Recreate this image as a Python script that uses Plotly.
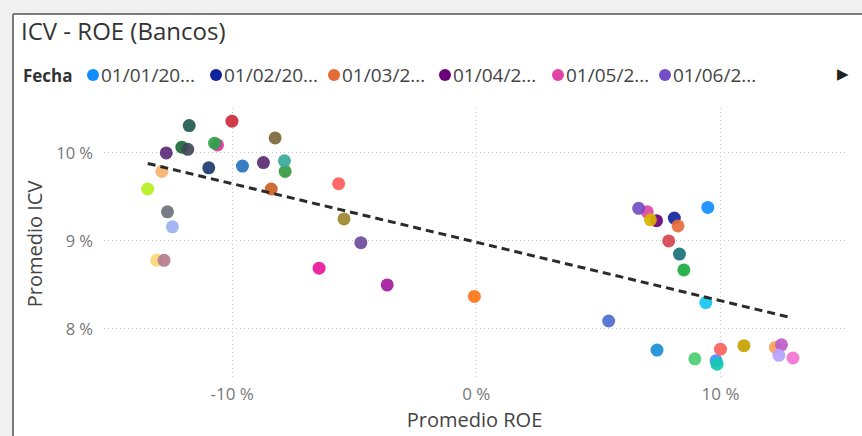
import plotly.graph_objects as go

# ---- data ----
roe = [9.48, 8.11, 8.26, 7.38, 7.00, 6.65, 7.13, 7.88, 8.32, 8.50, 9.40, 9.82,
       12.25, 12.50, 12.97, 12.39, 10.96, 10.00, 8.95, 7.40, 9.86, 5.42,
       -6.44, -3.65, -0.08, -4.73, -5.42, -5.64, -8.40, -7.83, -7.86, -8.72,
       -9.58, -10.96, -8.24, -10.01, -10.60, -10.72, -11.76, -12.06, -11.82,
       -12.70, -12.88, -13.46, -12.65, -12.45, -13.09, -12.79]
icv = [9.38, 9.26, 9.17, 9.23, 9.33, 9.37, 9.24, 9.00, 8.85, 8.67, 8.30, 7.64,
       7.79, 7.82, 7.67, 7.70, 7.81, 7.77, 7.66, 7.76, 7.60, 8.09,
       8.69, 8.50, 8.37, 8.98, 9.25, 9.65, 9.59, 9.79, 9.91, 9.89,
       9.85, 9.83, 10.17, 10.36, 10.09, 10.11, 10.31, 10.065, 10.04,
       10.00, 9.79, 9.59, 9.33, 9.16, 8.78, 8.78]
legend_labels = ["01/01/20...", "01/02/20...", "01/03/2...", "01/04/2...",
                 "01/05/2...", "01/06/2..."]
trend_roe = [-13.46, 12.87]
trend_icv = [9.88, 8.13]
x_tickvals = [-10, 0, 10]
x_ticktext = ["-10 %", "0 %", "10 %"]
y_tickvals = [8, 9, 10]
y_ticktext = ["8 %", "9 %", "10 %"]

colors = ["#118DFF", "#12239E", "#E66C37", "#6B007B", "#E044A7", "#744EC2",
          "#D9B300", "#D64550", "#197278", "#1AAB40", "#15C6F4", "#4092FF",
          "#FFA058", "#BE5DC9", "#F472D0", "#B5A1FF", "#C4A200", "#FD625E",
          "#4BCE71", "#1B8FD6", "#12C8B0", "#4E6FCF",
          "#E8189A", "#A31B9F", "#FF7518", "#6B4C9A", "#A08530", "#FF5C5C",
          "#CC5F22", "#3A9A40", "#3AAA9A", "#5B2D72", "#2673BE", "#1D3B6E",
          "#7A6838", "#CC2B3B", "#E0309F", "#2FA34A", "#215A4F", "#1E6B3A",
          "#3F4858", "#5C2B78", "#F9B26E", "#B4F01E", "#6B717E", "#9CB1F2",
          "#F9D77A", "#B47C8C"]

FONT = "Open Sans"

fig = go.Figure()
for i, (xv, yv) in enumerate(zip(roe, icv)):
    fig.add_trace(go.Scatter(
        x=[xv], y=[yv], mode="markers",
        name=legend_labels[i] if i < len(legend_labels) else f"Fecha {i + 1}",
        showlegend=False,
        marker=dict(size=13, color=colors[i], opacity=0.92, line=dict(width=0)),
    ))

fig.add_trace(go.Scatter(
    x=trend_roe, y=trend_icv, mode="lines", showlegend=False, hoverinfo="skip",
    line=dict(color="#2b2b2b", width=3, dash="8px,5px"),
))

W, H = 862, 436
L, R, T, B = 104, 17, 108, 56
pw, ph = W - L - R, H - T - B


def px(xp):
    return (xp - L) / pw


def py(yp):
    return (H - B - yp) / ph


shapes = [
    dict(type="rect", xref="paper", yref="paper", x0=px(0), x1=px(W), y0=py(0), y1=py(13),
         fillcolor="#f0f0f0", line=dict(width=0), layer="below"),
    dict(type="rect", xref="paper", yref="paper", x0=px(0), x1=px(12), y0=py(0), y1=py(H),
         fillcolor="#f0f0f0", line=dict(width=0), layer="below"),
    dict(type="line", xref="paper", yref="paper", x0=px(13), x1=px(W), y0=py(14), y1=py(14),
         line=dict(color="#7a7a7a", width=2)),
    dict(type="line", xref="paper", yref="paper", x0=px(13), x1=px(13), y0=py(14), y1=py(H),
         line=dict(color="#7a7a7a", width=2)),
]

annotations = [
    dict(text="<b>Fecha</b>", xref="paper", yref="paper", x=px(21), y=py(75),
         xanchor="left", yanchor="middle", showarrow=False,
         font=dict(family=FONT, size=17, color="#333")),
    dict(text="▶", xref="paper", yref="paper", x=px(843), y=py(73),
         xanchor="center", yanchor="middle", showarrow=False,
         font=dict(size=15, color="#222")),
]

# custom legend (first six dates, as shown in the reference)
legend_circle_x = [93, 216, 334, 445, 558, 665]
for lab, col, cx in zip(legend_labels, colors, legend_circle_x):
    shapes.append(dict(type="circle", xref="paper", yref="paper",
                       xsizemode="pixel", ysizemode="pixel",
                       xanchor=px(cx), yanchor=py(75),
                       x0=-6, x1=6, y0=-6, y1=6,
                       fillcolor=col, line=dict(width=0)))
    annotations.append(dict(text=lab, xref="paper", yref="paper", x=px(cx + 6), y=py(75),
                            xanchor="left", yanchor="middle", showarrow=False,
                            font=dict(family=FONT, size=19, color="#444")))

fig.update_layout(
    width=W, height=H,
    margin=dict(l=L, r=R, t=T, b=B, autoexpand=False),
    paper_bgcolor="white", plot_bgcolor="white",
    font=dict(family=FONT, color="#444"),
    title=dict(text="ICV - ROE (Bancos)", x=21 / W, xanchor="left",
               y=1 - 32 / H, yanchor="middle",
               font=dict(family=FONT, size=24, color="#333")),
    showlegend=False,
    shapes=shapes,
    annotations=annotations,
)

fig.update_xaxes(
    range=[-15.25, 15.1],
    tickvals=x_tickvals, ticktext=x_ticktext,
    showgrid=True, gridcolor="#c4c4c4", griddash="1px,3px", gridwidth=1,
    zeroline=False, showline=False, ticklabelstandoff=2,
    tickfont=dict(family=FONT, size=17, color="#777"),
    title=dict(text="Promedio ROE", font=dict(family=FONT, size=20, color="#444"), standoff=8),
)
fig.update_yaxes(
    range=[7.42, 10.51],
    tickvals=y_tickvals, ticktext=y_ticktext,
    showgrid=True, gridcolor="#c4c4c4", griddash="1px,3px", gridwidth=1,
    zeroline=False, showline=False, ticklabelstandoff=10,
    tickfont=dict(family=FONT, size=16.5, color="#777"),
    title=dict(text="Promedio ICV", font=dict(family=FONT, size=20, color="#444"), standoff=8),
)

fig.write_html("out.html",
               config={"displayModeBar": False},
               post_script="document.body.style.margin='0';document.body.style.overflow='hidden';")
